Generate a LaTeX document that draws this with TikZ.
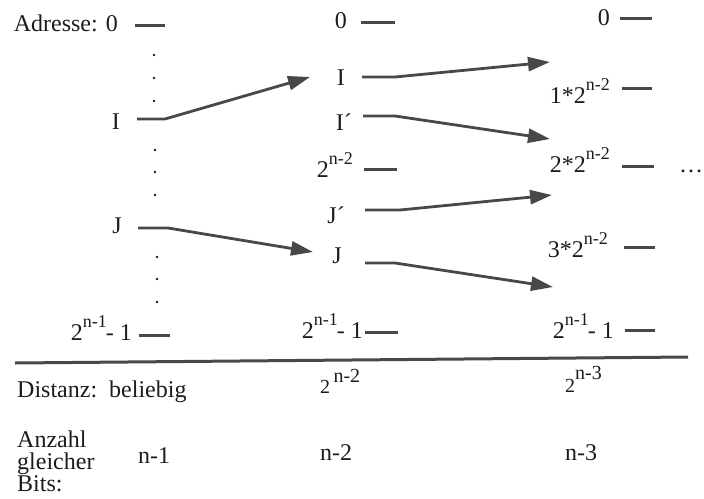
\documentclass[tikz,border=0pt]{standalone}
\usepackage{fontspec}
\setmainfont{Liberation Serif}
\usetikzlibrary{arrows.meta}
\definecolor{stift}{RGB}{72,72,72}
\definecolor{schrift}{RGB}{28,28,28}
\newcommand{\hoch}[1]{\raisebox{13pt}{\fontsize{18}{18}\selectfont #1}}

\begin{document}
\begin{tikzpicture}[x=1pt, y=-1pt,
    lab/.style={inner sep=0pt, anchor=base east, text=schrift, font=\fontsize{24}{24}\selectfont},
    labl/.style={lab, anchor=base west},
    strich/.style={stift, line width=3pt},
    pfeil/.style={stift, line width=2.8pt, line join=round, -{Triangle[length=22pt,width=14pt]}}]
\useasboundingbox (0,0) rectangle (704,498);

% Spalte 1 (beliebige Adressen)
\node[lab] (adr0) at (118,31) {Adresse: 0};
\node[lab] (i1) at (120,129) {I};
\node[lab] (j1) at (122,233) {J};
\node[lab] (end1) at (132,340) {2\hoch{n-1}\kern-1pt- 1};
\draw[strich] (135,25) -- (165,25);
\draw[strich] (139,335) -- (170,335);
\foreach \y in {55,78,101} \fill[schrift] (154,\y) circle (1.4pt);
\foreach \y in {150,172,195} \fill[schrift] (155,\y) circle (1.4pt);
\foreach \y in {257,279,302} \fill[schrift] (157,\y) circle (1.4pt);
\coordinate (i1a) at (137,119);
\coordinate (i1b) at (165,119);
\coordinate (j1a) at (138,228);
\coordinate (j1b) at (168,228);

% Spalte 2 (Halbierung)
\node[lab] (null2) at (347,28) {0};
\node[lab] (i2) at (345,85) {I};
\node[lab] (ip2) at (352,130) {I´};
\node[lab] (mid2) at (353,177) {2\hoch{n-2}};
\node[lab] (jp2) at (345,223) {J´};
\node[lab] (j2) at (342,263) {J};
\node[lab] (end2) at (363,338) {2\hoch{n-1}\kern-1pt- 1};
\draw[strich] (361,22) -- (395,22);
\draw[strich] (364,169) -- (397,169);
\draw[strich] (365,332) -- (398,332);
\coordinate (i2t) at (310,77);
\coordinate (j2t) at (313,252);
\coordinate (i2a) at (362,77);
\coordinate (i2b) at (395,77);
\coordinate (ip2a) at (363,116);
\coordinate (ip2b) at (395,116);
\coordinate (jp2a) at (365,210);
\coordinate (jp2b) at (400,210);
\coordinate (j2a) at (365,263);
\coordinate (j2b) at (395,263);

% Spalte 3 (Viertelung)
\node[lab] (null3) at (610,25) {0};
\node[lab] (q1) at (610,103) {1*2\hoch{n-2}};
\node[lab] (q2) at (610,172) {2*2\hoch{n-2}};
\node[labl] (weiter) at (679,172) {\dots};
\node[lab] (q3) at (608,257) {3*2\hoch{n-2}};
\node[lab] (end3) at (614,338) {2\hoch{n-1}\kern-1pt- 1};
\draw[strich] (620,18) -- (652,18);
\draw[strich] (622,88) -- (652,88);
\draw[strich] (622,166) -- (654,166);
\draw[strich] (624,247) -- (655,247);
\draw[strich] (625,330) -- (655,330);
\coordinate (i3t) at (550,62);
\coordinate (ip3t) at (550,139);
\coordinate (jp3t) at (552,195);
\coordinate (j3t) at (553,287);

% Pfeile
\draw[pfeil] (i1a) -- (i1b) -- (i2t);
\draw[pfeil] (j1a) -- (j1b) -- (j2t);
\draw[pfeil] (i2a) -- (i2b) -- (i3t);
\draw[pfeil] (ip2a) -- (ip2b) -- (ip3t);
\draw[pfeil] (jp2a) -- (jp2b) -- (jp3t);
\draw[pfeil] (j2a) -- (j2b) -- (j3t);

% Tabelle unten
\draw[strich] (15,363) -- (688,357);
\node[labl] (dist) at (17,397) {Distanz:\ \ beliebig};
\node[labl] (dist2) at (320,393) {{\fontsize{20}{20}\selectfont 2\,\raisebox{11pt}{n-2}}};
\node[labl] (dist3) at (565,392) {{\fontsize{20}{20}\selectfont 2\raisebox{13pt}{n-3}}};
\node[labl, align=left, anchor=north west, font=\fontsize{24}{22}\selectfont] (anz) at (17,431) {Anzahl\\gleicher\\Bits:};
\node[labl] (bits1) at (138,463) {n-1};
\node[labl] (bits2) at (320,460) {n-2};
\node[labl] (bits3) at (565,460) {n-3};
\end{tikzpicture}
\end{document}
